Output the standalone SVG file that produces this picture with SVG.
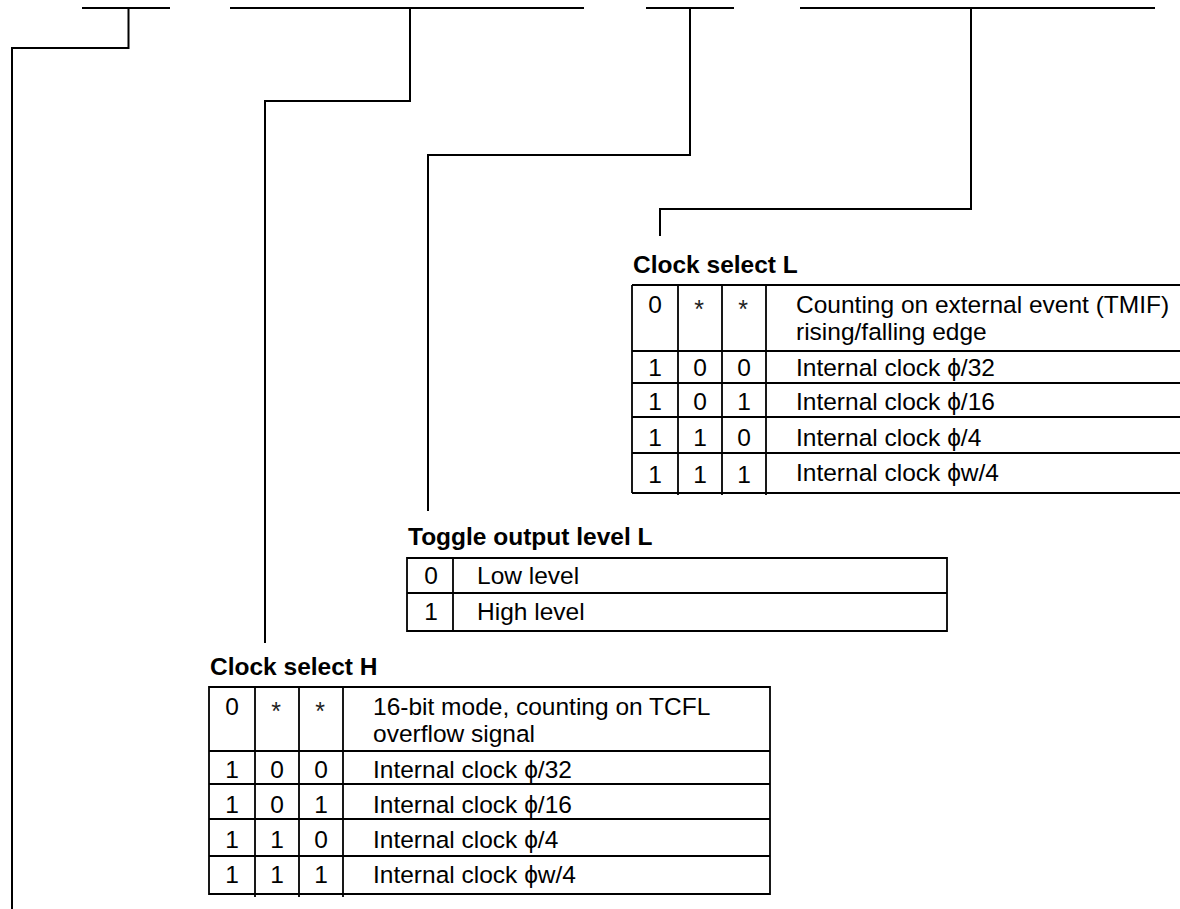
<svg xmlns="http://www.w3.org/2000/svg" width="1180" height="909" viewBox="0 0 1180 909">
<style>
.ln{stroke:#000;stroke-width:2;fill:none}
.tb{stroke:#000;stroke-width:1.8;fill:none}
text{font-family:"Liberation Sans",Arial,"DejaVu Sans",sans-serif;font-size:24.5px;fill:#000}
.t{font-weight:bold}
.c{text-anchor:middle}
.a{font-size:25px;fill:#222}
</style>
<rect width="1180" height="909" fill="#fff"/>
<g id="connectors" class="ln">
<path d="M82 8H170 M128.5 8V48H12V909"/>
<path d="M230 8H584 M410 8V101H265V643"/>
<path d="M646 8H734 M690 8V155H428V511"/>
<path d="M800 8H1155 M971 8V209H660V236"/>
</g>
<g id="clock-select-l">
<text class="t" x="633" y="273">Clock select L</text>
<path class="tb" d="M632 285H1180 M632 351H1180 M632 383H1180 M632 417H1180 M632 453H1180 M632 493H1180 M632 285V493 M678 285V495 M722 285V495 M766 285V495"/>
<text class="c" x="655" y="313">0</text><text class="c a" x="699" y="318">*</text><text class="c a" x="743" y="318">*</text>
<text x="796" y="313">Counting on external event (TMIF)</text>
<text x="796" y="340">rising/falling edge</text>
<text class="c" x="655" y="376">1</text><text class="c" x="700" y="376">0</text><text class="c" x="744" y="376">0</text>
<text x="796" y="376">Internal clock ϕ/32</text>
<text class="c" x="655" y="410">1</text><text class="c" x="700" y="410">0</text><text class="c" x="744" y="410">1</text>
<text x="796" y="410">Internal clock ϕ/16</text>
<text class="c" x="655" y="446">1</text><text class="c" x="700" y="446">1</text><text class="c" x="744" y="446">0</text>
<text x="796" y="446">Internal clock ϕ/4</text>
<text class="c" x="655" y="483">1</text><text class="c" x="700" y="483">1</text><text class="c" x="744" y="483">1</text>
<text x="796" y="481">Internal clock ϕw/4</text>
</g>
<g id="toggle-output-level-l">
<text class="t" x="408" y="545">Toggle output level L</text>
<path class="tb" d="M407 558H947V631H407Z M407 593H947 M453 558V631"/>
<text class="c" x="431" y="584">0</text>
<text x="477" y="584">Low level</text>
<text class="c" x="431" y="620">1</text>
<text x="477" y="620">High level</text>
</g>
<g id="clock-select-h">
<text class="t" x="210" y="675">Clock select H</text>
<path class="tb" d="M209 687H770V894H209Z M209 751H770 M209 784H770 M209 819H770 M209 856H770 M255 687V897 M299 687V897 M343 687V897"/>
<text class="c" x="232" y="715">0</text><text class="c a" x="276" y="720">*</text><text class="c a" x="320" y="720">*</text>
<text x="373" y="715">16-bit mode, counting on TCFL</text>
<text x="373" y="742">overflow signal</text>
<text class="c" x="232" y="778">1</text><text class="c" x="277" y="778">0</text><text class="c" x="321" y="778">0</text>
<text x="373" y="778">Internal clock ϕ/32</text>
<text class="c" x="232" y="813">1</text><text class="c" x="277" y="813">0</text><text class="c" x="321" y="813">1</text>
<text x="373" y="813">Internal clock ϕ/16</text>
<text class="c" x="232" y="848">1</text><text class="c" x="277" y="848">1</text><text class="c" x="321" y="848">0</text>
<text x="373" y="848">Internal clock ϕ/4</text>
<text class="c" x="232" y="883">1</text><text class="c" x="277" y="883">1</text><text class="c" x="321" y="883">1</text>
<text x="373" y="883">Internal clock ϕw/4</text>
</g>
</svg>
